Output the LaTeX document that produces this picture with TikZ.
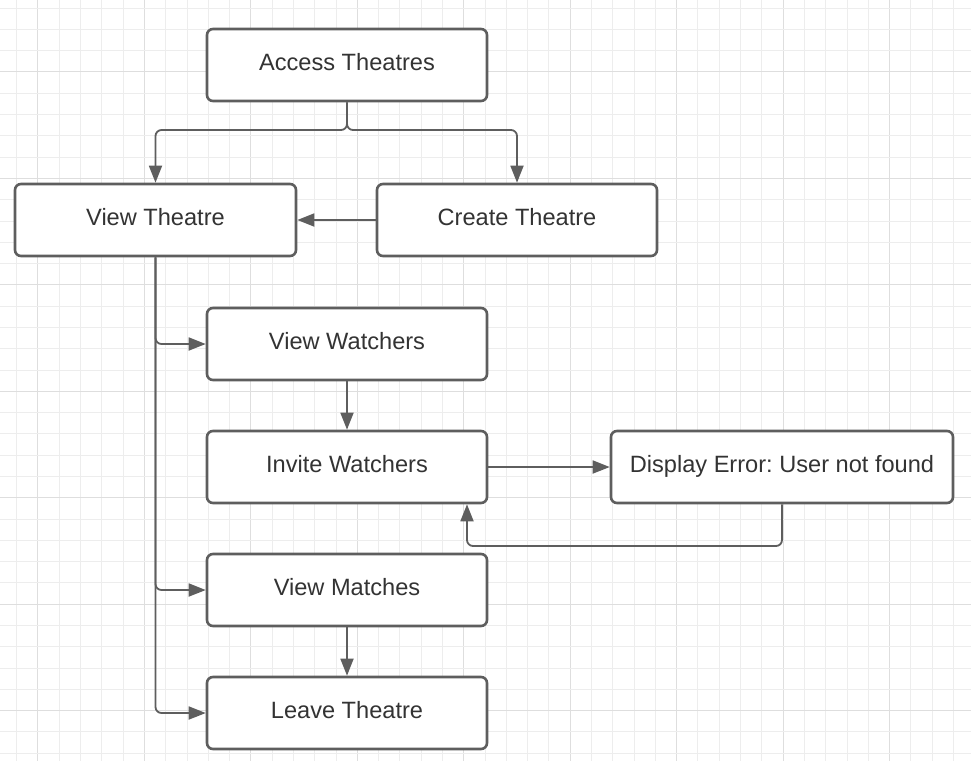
\documentclass[tikz,border=0pt]{standalone}
\usepackage{fontspec}
\setmainfont{Liberation Sans}
\usetikzlibrary{arrows.meta}
\definecolor{lineC}{HTML}{5E5E5E}
\definecolor{textC}{HTML}{333333}
\definecolor{gridMinor}{HTML}{EDEDED}
\definecolor{gridMajor}{HTML}{DEDEDE}
\frenchspacing
\begin{document}
\begin{tikzpicture}[x=1pt,y=-1pt,
  box/.style={draw=lineC, line width=2.6pt, rounded corners=6pt, fill=white,
    minimum width=280pt, minimum height=72pt, inner sep=0pt,
    text height=17pt, text depth=6pt,
    text=textC, font=\fontsize{23.6}{28}\selectfont},
  conn/.style={draw=lineC, line width=1.8pt, rounded corners=6pt,
    -{Triangle[length=17pt,width=13pt]}}]
\useasboundingbox (0,0) rectangle (971,761);
\fill[white] (0,0) rectangle (971,761);
% grid
\foreach \k in {0,...,45} {
  \pgfmathsetmacro{\gx}{16.7+21.29*\k}
  \pgfmathtruncatemacro{\mj}{mod(\k,5)==1}
  \ifnum\mj=1
    \draw[gridMajor, line width=1pt] (\gx,0) -- (\gx,761);
  \else
    \draw[gridMinor, line width=1pt] (\gx,0) -- (\gx,761);
  \fi
}
\foreach \k in {0,...,36} {
  \pgfmathsetmacro{\gy}{8.1+21.29*\k}
  \pgfmathtruncatemacro{\mj}{mod(\k,5)==3}
  \ifnum\mj=1
    \draw[gridMajor, line width=1pt] (0,\gy) -- (971,\gy);
  \else
    \draw[gridMinor, line width=1pt] (0,\gy) -- (971,\gy);
  \fi
}
% nodes
\node[box] (access) at (347,65) {Access Theatres};
\node[box, minimum width=281pt] (view) at (155.5,220) {View Theatre};
\node[box] (create) at (517,220) {Create Theatre};
\node[box] (watchers) at (347,344) {View Watchers};
\node[box] (invite) at (347,467) {Invite Watchers};
\node[box, minimum width=342pt] (error) at (782,467) {Display Error: User not found};
\node[box] (matches) at (347,590) {View Matches};
\node[box] (leave) at (347,713) {Leave Theatre};
% connectors
\coordinate (split) at (347,130);
\draw[conn] (access.south) -- (split) -| (view.north);
\draw[conn] (access.south) -- (split) -| (create.north);
\draw[conn] (create.west) -- (view.east);
\draw[conn] (view.south) |- (watchers.west);
\draw[conn] (view.south) |- (matches.west);
\draw[conn] (view.south) |- (leave.west);
\draw[conn] (watchers.south) -- (invite.north);
\draw[conn] (invite.east) -- (error.west);
\coordinate (back) at (467,546);
\draw[conn] (error.south) |- (back) -- (invite.south -| back);
\draw[conn] (matches.south) -- (leave.north);
\end{tikzpicture}
\end{document}
